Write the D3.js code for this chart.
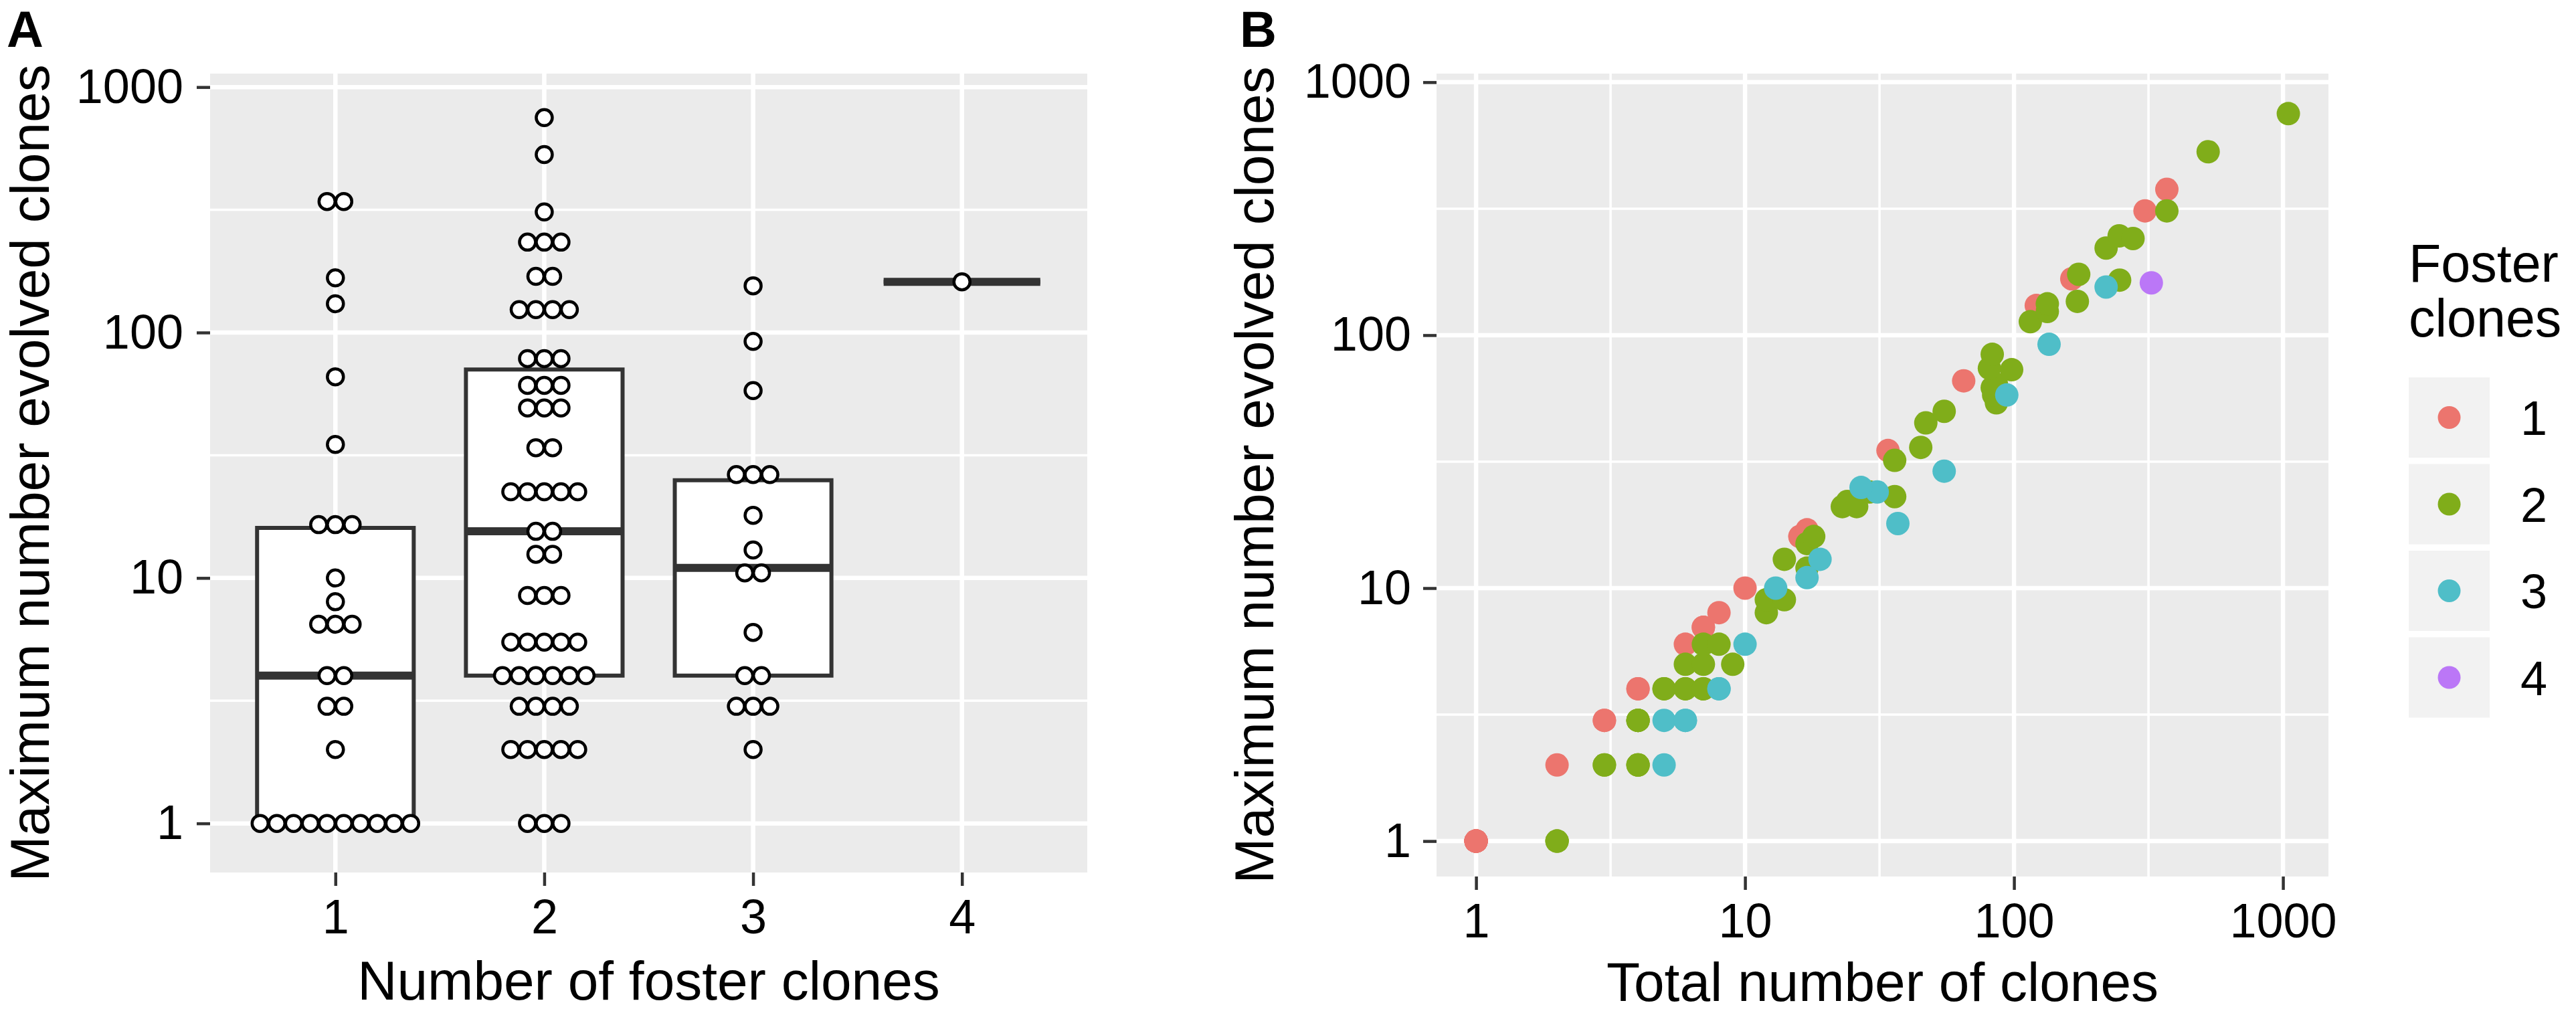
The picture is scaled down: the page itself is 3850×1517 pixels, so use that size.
<!DOCTYPE html>
<html>
<head>
<meta charset="utf-8">
<script src="https://cdn.jsdelivr.net/npm/d3@7/dist/d3.min.js"></script>
<style>
  body { margin: 0; background: #fff; }
  svg { font-family: "Liberation Sans", Arial, Helvetica, sans-serif; }
</style>
</head>
<body>
<div id="plot"></div>
<script>
// number of foster clones per experiment group
const fosterGroups = [1, 2, 3, 4];
const groupColors = ["#EC756E", "#80AD1A", "#4FBEC8", "#BB77F7"];
const logTicks = [1, 10, 100, 1000];

// total clones (x in B) and max evolved clones (y in A and B), one entry per experiment
const foster1Total = [1, 1, 1, 1, 1, 1, 1, 1, 1, 1, 2, 3, 3, 4, 4, 6, 7, 7, 8, 10, 16, 16, 17, 34, 65, 121, 164, 307, 370];
const foster1Max   = [1, 1, 1, 1, 1, 1, 1, 1, 1, 1, 2, 3, 3, 4, 4, 6, 7, 7, 8, 10, 16, 16, 17, 35, 66, 131, 167, 310, 377];

const foster2Total = [2, 2, 2, 3, 3, 4, 4, 4, 4, 4, 4, 4, 5, 5, 6, 6, 7, 7, 6, 7, 9, 7, 8, 12, 12, 14, 14, 17, 17, 18,
                      23, 24, 26, 29, 36, 36, 45, 47, 55, 86, 84, 83, 86, 98, 81, 83, 115, 133, 133, 172, 174, 247,
                      220, 246, 277, 370, 527, 1047];
const foster2Max   = [1, 1, 1, 2, 2, 2, 2, 2, 3, 3, 3, 3, 4, 4, 4, 4, 4, 4, 5, 5, 5, 6, 6, 8, 9, 9, 13, 12, 15, 16,
                      21, 22, 21, 24, 23, 32, 36, 45, 50, 54, 58, 62, 64, 73, 74, 84, 113, 124, 133, 136, 174, 165,
                      221, 247, 241, 310, 531, 751];

const foster3Total = [5, 5, 6, 6, 8, 8, 10, 13, 17, 19, 37, 31, 27, 55, 94, 135, 220];
const foster3Max   = [2, 3, 3, 3, 4, 4, 6, 10, 11, 13, 18, 24, 25, 29, 58, 92, 155];

const foster4Total = [324];
const foster4Max   = [161];

const totals = [foster1Total, foster2Total, foster3Total, foster4Total];
const maxima = [foster1Max, foster2Max, foster3Max, foster4Max];

const width = 3850, height = 1517;
const svg = d3.select("#plot").append("svg")
  .attr("width", width)
  .attr("height", height);

// panel geometry
const A = {left: 314, right: 1625, top: 110, bottom: 1304};
const B = {left: 2147, right: 3480, top: 110, bottom: 1310};

const xA = d3.scaleLinear().domain([0.4, 4.6]).range([A.left, A.right]);
const yA = d3.scaleLog().domain([Math.pow(10, -0.2), Math.pow(10, 3.055)]).range([A.bottom, A.top]);
const xB = d3.scaleLog().domain([Math.pow(10, -0.147), Math.pow(10, 3.169)]).range([B.left, B.right]);
const yB = d3.scaleLog().domain([Math.pow(10, -0.14), Math.pow(10, 3.034)]).range([B.bottom, B.top]);

const minorTicks = [0.5, 1.5, 2.5].map(e => Math.pow(10, e));

function panelBg(p) {
  svg.append("rect")
    .attr("x", p.left).attr("y", p.top)
    .attr("width", p.right - p.left).attr("height", p.bottom - p.top)
    .attr("fill", "#EBEBEB");
}

function hGrid(p, y, vals, w) {
  svg.append("g").selectAll("line").data(vals).join("line")
    .attr("x1", p.left).attr("x2", p.right)
    .attr("y1", d => y(d)).attr("y2", d => y(d))
    .attr("stroke", "#fff").attr("stroke-width", w);
}

function vGrid(p, x, vals, w) {
  svg.append("g").selectAll("line").data(vals).join("line")
    .attr("y1", p.top).attr("y2", p.bottom)
    .attr("x1", d => x(d)).attr("x2", d => x(d))
    .attr("stroke", "#fff").attr("stroke-width", w);
}

function styleAxis(g) {
  g.select(".domain").remove();
  g.selectAll(".tick line").attr("stroke", "#333").attr("stroke-width", 4.5);
  g.selectAll(".tick text")
    .attr("fill", "#000")
    .attr("font-size", 72)
    .attr("font-family", "'Liberation Sans', Arial, sans-serif");
}

// ---------- panel A ----------
panelBg(A);
hGrid(A, yA, minorTicks, 3.5);
hGrid(A, yA, logTicks, 6.5);
vGrid(A, xA, fosterGroups, 6.5);

// boxes (no whiskers), quartiles computed on log scale
const boxHalf = 0.375;
fosterGroups.forEach((g, i) => {
  const logs = maxima[i].map(Math.log10).sort(d3.ascending);
  const q1 = Math.pow(10, d3.quantile(logs, 0.25));
  const med = Math.pow(10, d3.quantile(logs, 0.5));
  const q3 = Math.pow(10, d3.quantile(logs, 0.75));
  const x0 = xA(g - boxHalf), x1 = xA(g + boxHalf);
  svg.append("path")
    .attr("d", `M${x0},${yA(q3)}H${x1}V${yA(q1)}H${x0}Z`)
    .attr("fill", "#fff")
    .attr("stroke", "#333")
    .attr("stroke-width", 6);
  svg.append("line")
    .attr("x1", x0).attr("x2", x1)
    .attr("y1", yA(med)).attr("y2", yA(med))
    .attr("stroke", "#333")
    .attr("stroke-width", 12);
});

// dot-density binning on log scale (like geom_dotplot)
const binWidth = 0.09;
function dotBins(values) {
  const v = values.map(Math.log10).sort(d3.ascending);
  const bins = [];
  let i = 0;
  while (i < v.length) {
    const end = v[i] + binWidth;
    let j = i;
    while (j + 1 < v.length && v[j + 1] < end) j++;
    bins.push({center: (v[i] + v[j]) / 2, count: j - i + 1});
    i = j + 1;
  }
  return bins;
}

const dotStep = 25;
const dotsA = [];
fosterGroups.forEach((g, i) => {
  dotBins(maxima[i]).forEach(b => {
    for (let k = 0; k < b.count; k++) {
      dotsA.push({x: xA(g) + (k - (b.count - 1) / 2) * dotStep, y: yA(Math.pow(10, b.center))});
    }
  });
});
svg.append("g").selectAll("circle").data(dotsA).join("circle")
  .attr("cx", d => d.x).attr("cy", d => d.y)
  .attr("r", 12)
  .attr("fill", "#fff")
  .attr("stroke", "#000")
  .attr("stroke-width", 4.5);

svg.append("g")
  .attr("transform", `translate(${A.left},0)`)
  .call(d3.axisLeft(yA).tickValues(logTicks).tickFormat(d3.format("d")).tickSize(20).tickPadding(20))
  .call(styleAxis);
svg.append("g")
  .attr("transform", `translate(0,${A.bottom})`)
  .call(d3.axisBottom(xA).tickValues(fosterGroups).tickFormat(d3.format("d")).tickSize(20).tickPadding(20))
  .call(styleAxis);

// ---------- panel B ----------
panelBg(B);
hGrid(B, yB, minorTicks, 3.5);
vGrid(B, xB, minorTicks, 3.5);
hGrid(B, yB, logTicks, 6.5);
vGrid(B, xB, logTicks, 6.5);

const pointsB = [];
fosterGroups.forEach((g, i) => {
  totals[i].forEach((t, k) => pointsB.push({total: t, max: maxima[i][k], color: groupColors[i]}));
});
svg.append("g").selectAll("circle").data(pointsB).join("circle")
  .attr("cx", d => xB(d.total)).attr("cy", d => yB(d.max))
  .attr("r", 17.5)
  .attr("fill", d => d.color);

svg.append("g")
  .attr("transform", `translate(${B.left},0)`)
  .call(d3.axisLeft(yB).tickValues(logTicks).tickFormat(d3.format("d")).tickSize(20).tickPadding(18))
  .call(styleAxis);
svg.append("g")
  .attr("transform", `translate(0,${B.bottom})`)
  .call(d3.axisBottom(xB).tickValues(logTicks).tickFormat(d3.format("d")).tickSize(20).tickPadding(20))
  .call(styleAxis);

// ---------- titles ----------
function axisTitle(x, y, text, rotate) {
  svg.append("text")
    .attr("transform", `translate(${x},${y})` + (rotate ? " rotate(-90)" : ""))
    .attr("text-anchor", "middle")
    .attr("font-size", 82)
    .attr("fill", "#000")
    .text(text);
}
axisTitle((A.left + A.right) / 2, 1494, "Number of foster clones", false);
axisTitle(73, (A.top + A.bottom) / 2, "Maximum number evolved clones", true);
axisTitle((B.left + B.right) / 2, 1496, "Total number of clones", false);
axisTitle(1903, (B.top + B.bottom) / 2, "Maximum number evolved clones", true);

svg.append("text").attr("x", 10).attr("y", 70)
  .attr("font-size", 76).attr("font-weight", "bold").text("A");
svg.append("text").attr("x", 1853).attr("y", 70)
  .attr("font-size", 76).attr("font-weight", "bold").text("B");

// ---------- legend ----------
const legX = 3600, keyW = 121, keyH = 120, keyGap = 129.5, keyTop = 564;
svg.append("text").attr("x", legX).attr("y", 421).attr("font-size", 79).text("Foster");
svg.append("text").attr("x", legX).attr("y", 503).attr("font-size", 79).text("clones");

const leg = svg.append("g").selectAll("g").data(fosterGroups).join("g")
  .attr("transform", (d, i) => `translate(${legX},${keyTop + i * keyGap})`);
leg.append("rect")
  .attr("width", keyW).attr("height", keyH)
  .attr("fill", "#F2F2F2");
leg.append("circle")
  .attr("cx", keyW / 2).attr("cy", keyH / 2).attr("r", 17)
  .attr("fill", (d, i) => groupColors[i]);
leg.append("text")
  .attr("x", keyW + 46).attr("y", keyH / 2 + 26)
  .attr("font-size", 72)
  .text(d => d);
</script>
</body>
</html>
